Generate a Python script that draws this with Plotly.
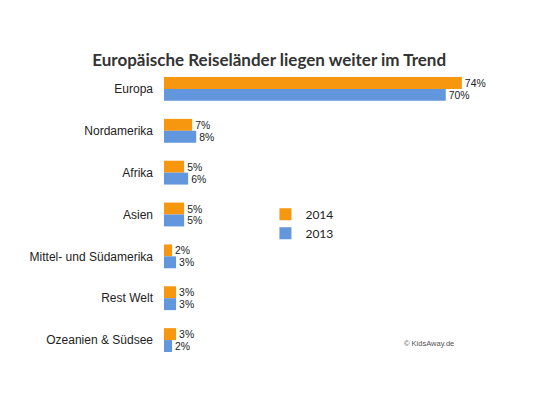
import plotly.graph_objects as go

categories = ["Europa", "Nordamerika", "Afrika", "Asien",
              "Mittel- und Südamerika", "Rest Welt", "Ozeanien & Südsee"]
values_2014 = [74, 7, 5, 5, 2, 3, 3]
values_2013 = [70, 8, 6, 5, 3, 3, 2]

label_font = dict(family="Liberation Sans, Arial", size=10.5, color="#222")

fig = go.Figure()
fig.add_trace(go.Bar(
    y=categories, x=values_2014, name="2014", orientation="h",
    marker=dict(color="#F7960F", line=dict(width=0)),
    texttemplate="%{x}%", textposition="outside", cliponaxis=False,
    textfont=label_font,
))
fig.add_trace(go.Bar(
    y=categories, x=values_2013, name="2013", orientation="h",
    marker=dict(color="#6296DD", line=dict(width=0)),
    texttemplate="%{x}%", textposition="outside", cliponaxis=False,
    textfont=label_font,
))

fig.update_layout(
    width=533, height=400,
    paper_bgcolor="white", plot_bgcolor="white",
    margin=dict(l=156, r=55, t=60, b=47),
    barmode="group", bargap=0.43, bargroupgap=0,
    title=dict(text="<b>Europäische Reiseländer liegen weiter im Trend</b>",
               x=0.49, xanchor="center", y=0.87, yanchor="middle",
               font=dict(family="Lato, Open Sans, sans-serif", size=17, color="#333")),
    xaxis=dict(range=[0, 80], visible=False, fixedrange=True),
    yaxis=dict(categoryorder="array", categoryarray=categories, autorange="reversed",
               showline=False, showgrid=False, ticks="", ticklen=0,
               automargin=False, ticklabelstandoff=10,
               tickfont=dict(family="Liberation Sans, Arial", size=12, color="#222")),
    legend=dict(x=0.315, y=0.55, xanchor="left", yanchor="top",
                font=dict(family="Lato, Open Sans, sans-serif", size=12, color="#222"),
                itemwidth=30, bgcolor="rgba(0,0,0,0)"),
    showlegend=True,
)
fig.update_layout(annotations=[dict(text="© KidsAway.de", xref="paper", yref="paper",
                                    x=(402-164)/322, y=(400-39-343)/293,
                                    xanchor="left", yanchor="middle", showarrow=False,
                                    font=dict(family="Liberation Sans", size=7.5, color="#555"))])

fig.write_html("out.html")
